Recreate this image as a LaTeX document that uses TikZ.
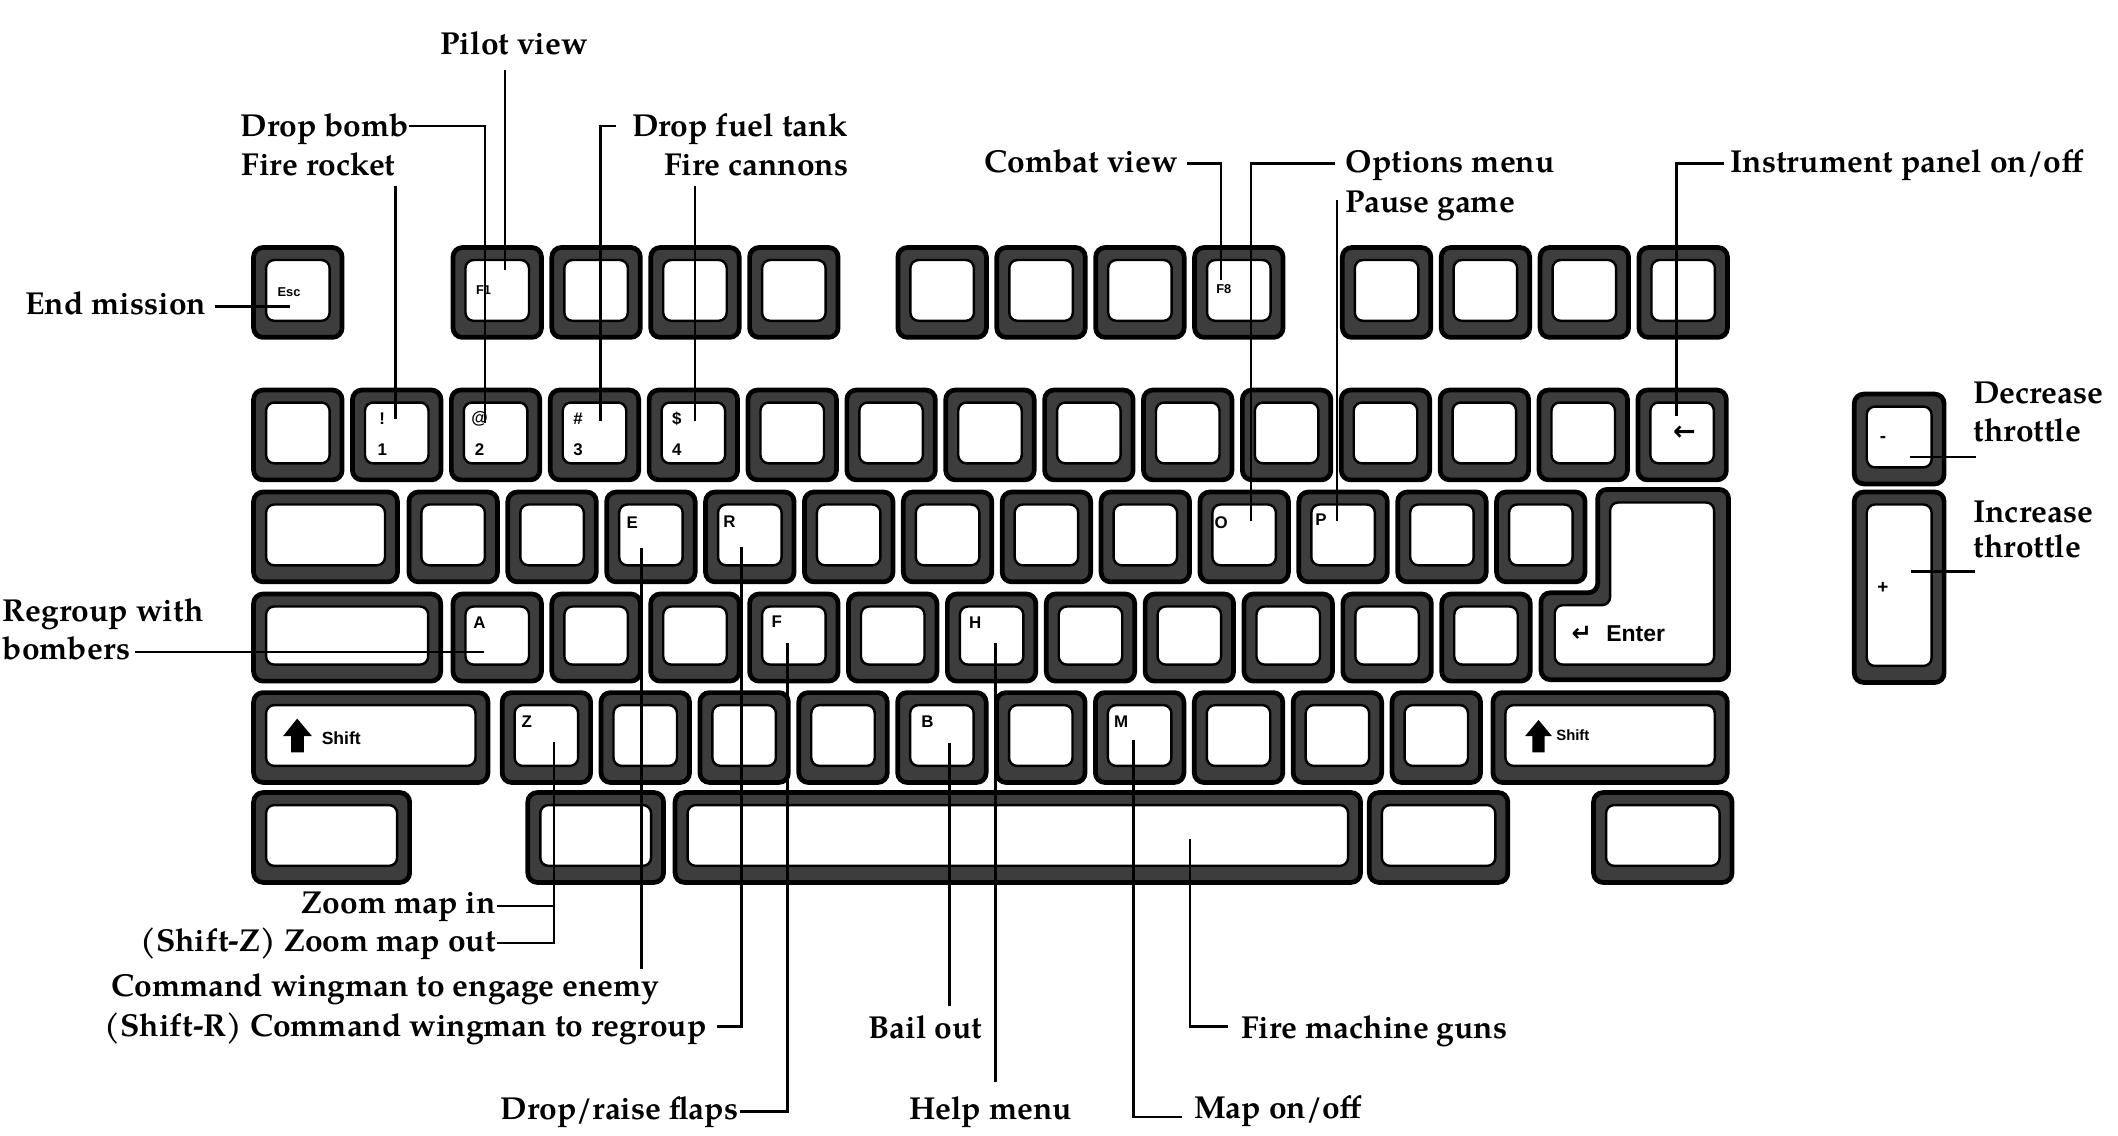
\documentclass[tikz,border=0pt]{standalone}
\usepackage{fontspec}
\setmainfont{texgyrepagella}[Extension=.otf,UprightFont=*-regular,BoldFont=*-bold,ItalicFont=*-italic,BoldItalicFont=*-bolditalic]
\newfontfamily\keyfont{Liberation Sans}
\newfontfamily\symfont{DejaVu Sans}
\tikzset{
  lbl/.style={font=\fontsize{23.5}{29}\selectfont\bfseries, inner sep=0pt, outer sep=0pt},
  conn/.style={line width=1.8pt},
  keyo/.style={draw=black, line width=3.5pt, fill=black!76, rounded corners=7pt, inner sep=0pt, outer sep=0pt},
  keyi/.style={draw=black, line width=1.8pt, fill=white, rounded corners=6pt, inner sep=0pt, outer sep=0pt},
  kl/.style={font=\keyfont\bfseries\fontsize{12.5}{12.5}\selectfont, inner sep=0pt},
  kls/.style={font=\keyfont\bfseries\fontsize{9.5}{9.5}\selectfont, inner sep=0pt},
}
\newcommand\kb[5]{%
  \pgfmathsetmacro\kbw{#4-3.5}\pgfmathsetmacro\kbh{#5-3.5}%
  \pgfmathsetmacro\kbiw{#4-22}\pgfmathsetmacro\kbih{#5-25}%
  \node[keyo, minimum width=\kbw pt, minimum height=\kbh pt, anchor=north west] (#1) at ({#2+1.75},{#3+1.75}) {};
  \node[keyi, minimum width=\kbiw pt, minimum height=\kbih pt, anchor=north west] (#1i) at ({#2+11},{#3+11}) {};
}
\begin{document}
\begin{tikzpicture}[x=1pt,y=-1pt]
\useasboundingbox (0,0) rectangle (1568,841);
\fill[white] (0,0) rectangle (1568,841);

% ---------- keys ----------
% function row
\kb{esc}{186}{181.5}{69}{70}
\foreach \i in {0,...,3}{\pgfmathsetmacro\xx{333.6+73.2*\i}\kb{fa\i}{\xx}{181.5}{69}{70}}
\foreach \i in {0,...,3}{\pgfmathsetmacro\xx{663+73.2*\i}\kb{fb\i}{\xx}{181.5}{69}{70}}
\foreach \i in {0,...,3}{\pgfmathsetmacro\xx{992+73.2*\i}\kb{fc\i}{\xx}{181.5}{69}{70}}
% number row
\foreach \i in {0,...,14}{\pgfmathsetmacro\xx{186+73.2*\i}\kb{n\i}{\xx}{287}{69}{70}}
% qwerty row
\kb{tab}{186}{362.5}{110}{70}
\foreach \i in {0,...,11}{\pgfmathsetmacro\xx{301+73.2*\i}\kb{q\i}{\xx}{362.5}{69}{70}}
% home row
\kb{caps}{186}{438}{142}{68}
\foreach \i in {0,...,10}{\pgfmathsetmacro\xx{333.6+73.2*\i}\kb{a\i}{\xx}{438}{69}{68}}
% enter key (L shape)
\draw[keyo] (1182.8,362.3) -- (1279.7,362.3) -- (1279.7,503.2) -- (1140.8,503.2) -- (1140.8,438.8) -- (1182.8,438.8) -- cycle;
\draw[keyi] (1192,372) -- (1269,372) -- (1269,492) -- (1151,492) -- (1151,448) -- (1192,448) -- cycle;
% shift row
\kb{lshift}{186}{511}{177}{70}
\foreach \i in {0,...,9}{\pgfmathsetmacro\xx{370+73.2*\i}\kb{z\i}{\xx}{511}{69}{70}}
\kb{rshift}{1103.5}{511}{177}{70}
% bottom row
\kb{lctrl}{186}{585}{119}{70}
\kb{lalt}{389}{585}{104}{70}
\kb{space}{498}{585}{511}{70}
\kb{ralt}{1012}{585}{106}{70}
\kb{rctrl}{1178}{585}{106}{70}
% keypad
\kb{minus}{1371}{290}{70}{70}
\kb{plus}{1371}{362.5}{70}{144.5}

% ---------- key legends ----------
\node[kls] (lesc) at (214,216) {Esc};
\node[kls] (lf1) at (358,215) {F1};
\node[kls] (lf8) at (906,214) {F8};
\node[kl] (l1a) at (283,310) {!};   \node[kl] (l1b) at (283,333) {1};
\node[kl] (l2a) at (355,310) {@};   \node[kl] (l2b) at (355,333) {2};
\node[kl] (l3a) at (428,310) {\#};  \node[kl] (l3b) at (428,333) {3};
\node[kl] (l4a) at (501,310) {\$};  \node[kl] (l4b) at (501,333) {4};
\node[font=\symfont\bfseries\fontsize{20}{20}\selectfont, inner sep=0pt] (lbs) at (1247,321) {←};
\node[kl] (le) at (468,387) {E};
\node[kl] (lr) at (540,386) {R};
\node[kl] (lo) at (904,386.6) {O};
\node[kl] (lp) at (978,385) {P};
\node[kl] (la) at (355,461) {A};
\node[kl] (lf) at (575,460.4) {F};
\node[kl] (lh) at (722,461) {H};
\node[font=\symfont\bfseries\fontsize{18}{18}\selectfont, inner sep=0pt] (lent) at (1171,469) {↵};
\node[font=\keyfont\bfseries\fontsize{17}{17}\selectfont, inner sep=0pt, anchor=west] (lenter) at (1189,469) {Enter};
\node[kl] (lz) at (390,534.4) {Z};
\node[kl] (lb) at (686.7,534.4) {B};
\node[kl] (lm) at (830,534.4) {M};
\fill (220,532) -- (231,545) -- (225,545) -- (225,557) -- (215.5,557) -- (215.5,545) -- (209.5,545) -- cycle;
\node[font=\keyfont\bfseries\fontsize{13}{13}\selectfont, inner sep=0pt, anchor=west] (lshiftl) at (238,546.6) {Shift};
\fill (1139,533) -- (1149,545) -- (1143.5,545) -- (1143.5,557) -- (1134.5,557) -- (1134.5,545) -- (1129,545) -- cycle;
\node[font=\keyfont\bfseries\fontsize{11}{11}\selectfont, inner sep=0pt, anchor=west] (lshiftr) at (1152,544) {Shift};
\node[font=\keyfont\bfseries\fontsize{14}{14}\selectfont, inner sep=0pt] (lminus) at (1394,325.7) {-};
\node[font=\keyfont\bfseries\fontsize{14}{14}\selectfont, inner sep=0pt] (lplus) at (1394,435.5) {+};

% ---------- labels ----------
\node[lbl, anchor=base] (pilot) at (380.6,40) {Pilot view};
\node[lbl, anchor=base east] (dropbomb) at (302.8,101) {Drop bomb};
\node[lbl, anchor=base east] (firerocket) at (292.8,129.6) {Fire rocket};
\node[lbl, anchor=base west] (dropfuel) at (468,101) {Drop fuel tank};
\node[lbl, anchor=base east] (firecannons) at (628,129.6) {Fire cannons};
\node[lbl, anchor=base east] (endmission) at (152.7,233) {End mission};
\node[lbl, anchor=base east] (combat) at (872,128) {Combat view};
\node[lbl, anchor=base west] (options) at (996.3,128) {Options menu};
\node[lbl, anchor=base west] (pause) at (996.3,157) {Pause game};
\node[lbl, anchor=base west] (instr) at (1281,128) {Instrument panel on/off};
\node[lbl, anchor=base west] (decr1) at (1460.8,298.5) {Decrease};
\node[lbl, anchor=base west] (decr2) at (1460.8,327) {throttle};
\node[lbl, anchor=base west] (incr1) at (1460.8,387) {Increase};
\node[lbl, anchor=base west] (incr2) at (1460.8,413) {throttle};
\node[lbl, anchor=base west] (regroup1) at (2,460) {Regroup with};
\node[lbl, anchor=base west] (regroup2) at (2,488) {bombers};
\node[lbl, anchor=base east] (zoomin) at (367,676) {Zoom map in};
\node[lbl, anchor=base east] (zoomout) at (367,704.6) {(Shift-Z) Zoom map out};
\node[lbl, anchor=base west] (engage) at (82.6,738) {Command wingman to engage enemy};
\node[lbl, anchor=base east] (regroupw) at (523,767.5) {(Shift-R) Command wingman to regroup};
\node[lbl, anchor=base east] (flaps) at (546.5,829) {Drop/raise flaps};
\node[lbl, anchor=base west] (bail) at (643,768.6) {Bail out};
\node[lbl, anchor=base west] (help) at (673,829) {Help menu};
\node[lbl, anchor=base west] (map) at (884,828) {Map on/off};
\node[lbl, anchor=base west] (mg) at (918.8,768.6) {Fire machine guns};

% ---------- connector end points ----------
\coordinate (cPilotA) at (374,52);     \coordinate (cPilotB) at (374,200);
\coordinate (cBombA) at (303,93.3);    \coordinate (cBombB) at (359,313);
\coordinate (cRocketA) at (292.8,138); \coordinate (cRocketB) at (292.8,310);
\coordinate (cFuelA) at (456,93.3);    \coordinate (cFuelB) at (444.5,312);
\coordinate (cCannA) at (514.5,138);   \coordinate (cCannB) at (514.5,312);
\coordinate (cEndA) at (159,227);      \coordinate (cEndB) at (215,227);
\coordinate (cCombA) at (879,121);     \coordinate (cCombB) at (904,207);
\coordinate (cOptA) at (988,121);      \coordinate (cOptB) at (926,386);
\coordinate (cPauseA) at (990,148);    \coordinate (cPauseB) at (990,386);
\coordinate (cInsA) at (1276,121);     \coordinate (cInsB) at (1241,308);
\coordinate (cDecA) at (1414,338.5);   \coordinate (cDecB) at (1463,338.5);
\coordinate (cIncA) at (1415,423);     \coordinate (cIncB) at (1462,423);
\coordinate (cRegA) at (100,482.6);    \coordinate (cRegB) at (358,482.6);
\coordinate (cZinA) at (368,670.7);    \coordinate (cZoutA) at (368,698);
\coordinate (cZB) at (410,549);
\coordinate (cEngA) at (475,717);      \coordinate (cEngB) at (475,406);
\coordinate (cShRA) at (530.5,760);    \coordinate (cShRB) at (549,405);
\coordinate (cFlapA) at (548,823);     \coordinate (cFlapB) at (583,476);
\coordinate (cBailA) at (703,745);     \coordinate (cBailB) at (703,550);
\coordinate (cHelpA) at (737,801);     \coordinate (cHelpB) at (737,476);
\coordinate (cMapA) at (875,827);      \coordinate (cMapB) at (839,548);
\coordinate (cMgA) at (909,760);       \coordinate (cMgB) at (881,621);

% ---------- connectors ----------
\draw[conn] (cPilotA) -- (cPilotB);
\draw[conn] (cBombA) -| (cBombB);
\draw[conn] (cRocketA) -- (cRocketB);
\draw[conn] (cFuelA) -| (cFuelB);
\draw[conn] (cCannA) -- (cCannB);
\draw[conn] (cEndA) -- (cEndB);
\draw[conn] (cCombA) -| (cCombB);
\draw[conn] (cOptA) -| (cOptB);
\draw[conn] (cPauseA) -- (cPauseB);
\draw[conn] (cInsA) -| (cInsB);
\draw[conn] (cDecA) -- (cDecB);
\draw[conn] (cIncA) -- (cIncB);
\draw[conn] (cRegA) -- (cRegB);
\draw[conn] (cZinA) -| (cZB);
\draw[conn] (cZoutA) -| (cZB);
\draw[conn] (cEngA) -- (cEngB);
\draw[conn] (cShRA) -| (cShRB);
\draw[conn] (cFlapA) -| (cFlapB);
\draw[conn] (cBailA) -- (cBailB);
\draw[conn] (cHelpA) -- (cHelpB);
\draw[conn] (cMapA) -| (cMapB);
\draw[conn] (cMgA) -| (cMgB);
\end{tikzpicture}
\end{document}
